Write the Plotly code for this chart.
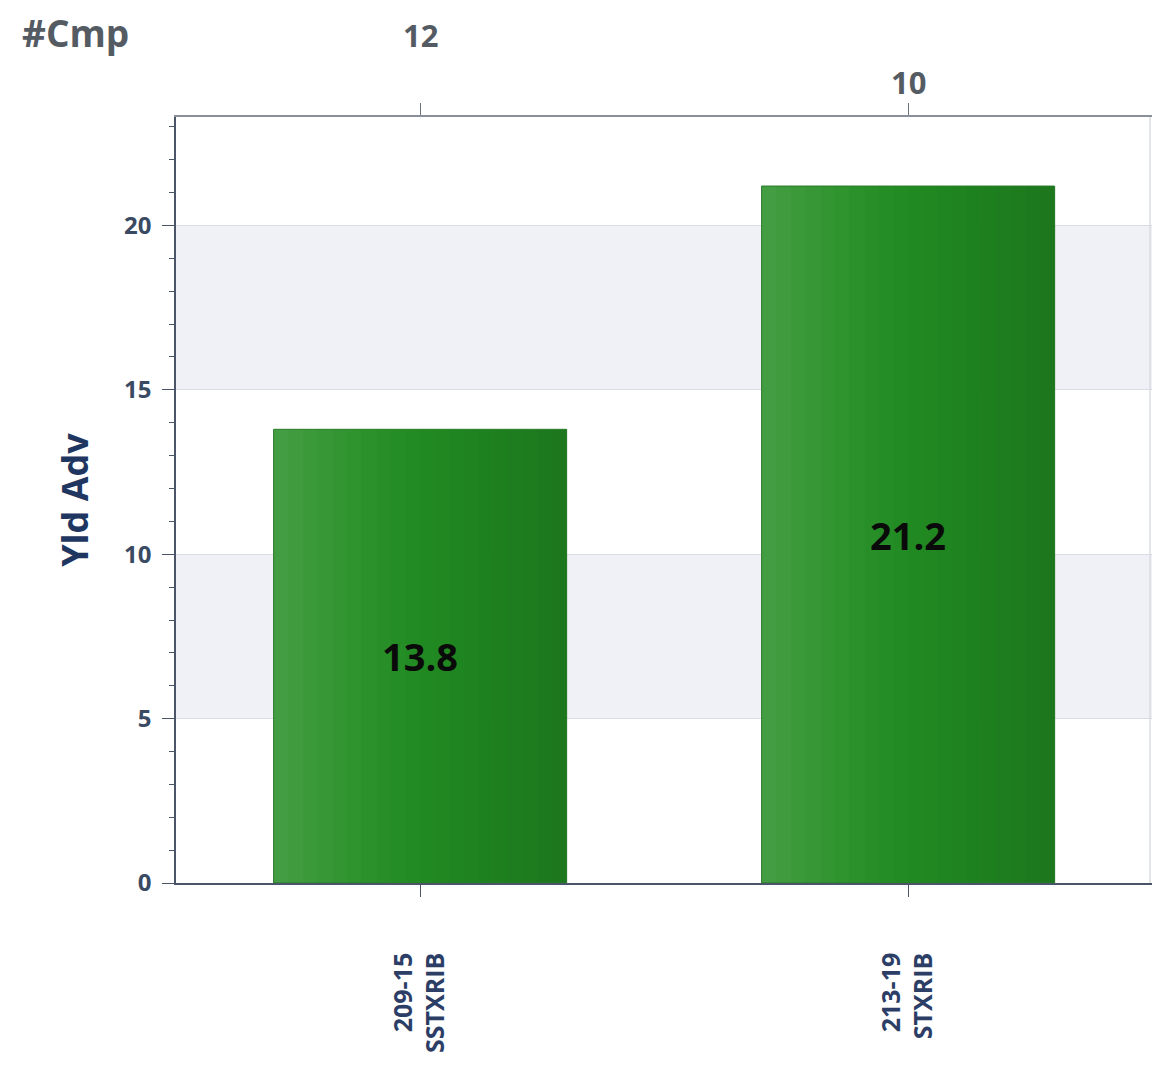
import plotly.graph_objects as go

categories = ["209-15<br>SSTXRIB", "213-19<br>STXRIB"]
yld_adv = [13.8, 21.2]
cmp_counts = ["12", "10"]
y_ticks = [0, 5, 10, 15, 20]

# gradient strips (left->right) to imitate the shaded bars
strip_colors = [
    "#439d43", "#3f9b3e", "#3b993a", "#379736", "#339532", "#2f932e", "#2b912b",
    "#288f28", "#258d25", "#238b23", "#218922", "#208721", "#1f8520", "#1f831f",
    "#1e811f", "#1e7f1e", "#1e7d1e", "#1e7b1e", "#1d791d", "#1d771d",
]
bar_width = 0.6
n = len(strip_colors)
sw = bar_width / n

fig = go.Figure()
for i, c in enumerate(strip_colors):
    fig.add_trace(go.Bar(
        x=[0, 1], y=yld_adv,
        width=[sw * 1.05] * 2,
        offset=[-bar_width / 2 + i * sw] * 2,
        marker=dict(color=c, line=dict(width=0)),
        hoverinfo="skip", showlegend=False,
    ))

# outline + labels
fig.add_trace(go.Bar(
    x=[0, 1], y=yld_adv, width=[bar_width] * 2,
    marker=dict(color="rgba(0,0,0,0)", line=dict(color="#2a7a2a", width=1)),
    text=[f"{v:.1f}" for v in yld_adv], textposition="inside",
    insidetextanchor="middle",
    textfont=dict(family="Open Sans", size=38, color="#0a0a0a", weight="bold"),
    showlegend=False,
))

# invisible trace for top axis
fig.add_trace(go.Scatter(x=[0, 1], y=[0, 0], xaxis="x2", mode="markers",
                         marker=dict(opacity=0), hoverinfo="skip", showlegend=False))

shapes = []
for y0, y1 in [(5, 10), (15, 20)]:
    shapes.append(dict(type="rect", xref="paper", yref="y", x0=0, x1=1, y0=y0, y1=y1,
                       fillcolor="#eff1f6", line=dict(width=0), layer="below"))
shapes.append(dict(type="line", xref="paper", yref="paper", x0=0.998, x1=0.998, y0=0, y1=1,
                   line=dict(color="#d9dce2", width=1.5)))

annotations = [dict(text="<b>#Cmp</b>", xref="paper", yref="paper", x=-0.16, y=1.11,
                    xanchor="left", yanchor="middle", showarrow=False,
                    font=dict(family="Open Sans", size=37, color="#555b63"))]
stagger = [1.107, 1.046]
for i, t in enumerate(cmp_counts):
    annotations.append(dict(text=f"<b>{t}</b>", xref="x", yref="paper", x=i, y=stagger[i % 2],
                            xanchor="center", yanchor="middle", showarrow=False,
                            font=dict(family="Open Sans", size=31, color="#555b63")))

fig.update_layout(
    width=1154, height=1057,
    margin=dict(l=168, r=10, t=109, b=182),
    paper_bgcolor="white", plot_bgcolor="white",
    barmode="overlay",
    shapes=shapes, annotations=annotations,
    font=dict(family="Open Sans"),
    xaxis=dict(
        range=[-0.5, 1.5], tickmode="array", tickvals=[0, 1], ticktext=categories,
        tickangle=-90, ticks="outside", ticklen=12, tickcolor="#4a5568",
        showline=True, linecolor="#4a5568", linewidth=1.5, showgrid=False,
        tickfont=dict(family="Open Sans", size=25, color="#2c3e66", weight="bold"),
        ticklabelstandoff=46, zeroline=False,
    ),
    xaxis2=dict(
        range=[-0.5, 1.5], overlaying="x", side="top", tickvals=[0, 1],
        showticklabels=False, ticks="outside", ticklen=12, tickcolor="#6b7280",
        showline=True, linecolor="#8a9099", linewidth=2, showgrid=False, zeroline=False,
    ),
    yaxis=dict(
        range=[0, 23.3], tickvals=y_ticks, ticks="outside", ticklen=12, tickcolor="#4a5568",
        showline=True, linecolor="#4a5568", linewidth=1.5,
        showgrid=True, gridcolor="#d8dce5", gridwidth=1, zeroline=False,
        tickfont=dict(family="Open Sans", size=24, color="#3a4a63", weight="bold"),
        ticklabelstandoff=6,
        minor=dict(dtick=1, ticks="outside", ticklen=5, tickcolor="#4a5568", showgrid=False),
        title=dict(text="<b>Yld Adv</b>", standoff=24,
                   font=dict(family="Open Sans", size=36, color="#1f3660")),
    ),
)

fig.write_html("out.html")
